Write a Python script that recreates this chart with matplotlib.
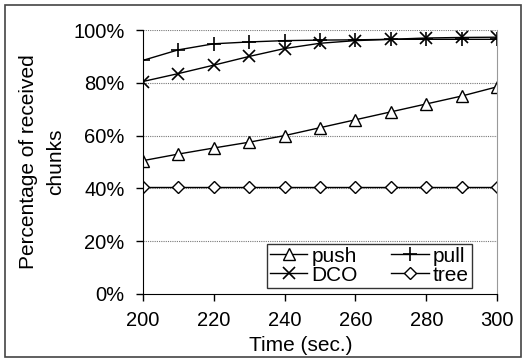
import matplotlib
matplotlib.use("Agg")
import matplotlib.pyplot as plt
from matplotlib.patches import Rectangle
from matplotlib.ticker import FuncFormatter

plt.rcParams['font.family'] = ['Liberation Sans', 'DejaVu Sans']

time_sec = [200, 210, 220, 230, 240, 250, 260, 270, 280, 290, 300]
push = [50.5, 53.0, 55.3, 57.5, 60.0, 63.0, 66.0, 69.0, 72.0, 75.0, 78.5]
pull = [88.5, 92.5, 94.8, 95.5, 96.0, 96.2, 96.3, 96.5, 96.5, 96.5, 96.5]
dco = [80.5, 83.5, 86.7, 90.0, 93.0, 95.0, 96.0, 96.5, 97.0, 97.2, 97.3]
tree = [40.5, 40.5, 40.5, 40.5, 40.5, 40.5, 40.5, 40.5, 40.5, 40.5, 40.5]

fig = plt.figure(figsize=(5.25, 3.58), dpi=100)
ax = fig.add_axes([0.272, 0.179, 0.675, 0.737])

# figure frame
fig.patches.append(Rectangle((0.01, 0.004), 0.983, 0.982, transform=fig.transFigure,
                             fill=False, edgecolor='#444444', linewidth=1.2))

l_push, = ax.plot(time_sec, push, color='black', linewidth=1.0, marker='^', markersize=9,
                  markerfacecolor='white', markeredgecolor='black', markeredgewidth=1.0, label='push')
l_pull, = ax.plot(time_sec, pull, color='black', linewidth=1.0, marker='+', markersize=10,
                  markeredgewidth=1.2, label='pull')
l_dco, = ax.plot(time_sec, dco, color='black', linewidth=1.0, marker='x', markersize=9,
                 markeredgewidth=1.2, label='DCO')
l_tree, = ax.plot(time_sec, tree, color='black', linewidth=1.0, marker='D', markersize=6,
                  markerfacecolor='white', markeredgecolor='black', markeredgewidth=1.0, label='tree')

ax.set_xlim(200, 300)
ax.set_ylim(0, 100)
ax.set_xticks([200, 220, 240, 260, 280, 300])
ax.set_yticks([0, 20, 40, 60, 80, 100])
ax.yaxis.set_major_formatter(FuncFormatter(lambda v, p: f'{int(v)}%'))
ax.tick_params(axis='both', labelsize=14.5, direction='out', length=5, width=1, colors='black')
ax.tick_params(axis='y', pad=8)
ax.tick_params(axis='x', pad=7)

for y in [20, 40, 60, 80, 100]:
    ax.axhline(y, color='#777777', linestyle=(0, (1, 1)), linewidth=0.8, zorder=0)

ax.spines['top'].set_visible(False)
ax.spines['right'].set_color('#999999')
ax.spines['left'].set_color('black')
ax.spines['bottom'].set_color('black')

ax.set_xlabel('Time (sec.)', fontsize=15)
ax.xaxis.set_label_coords(0.446, -0.158)
ax.set_ylabel('Percentage of received\nchunks', fontsize=15, linespacing=1.55, labelpad=6)

# row-wise order: push, pull / DCO, tree
leg = ax.legend([l_push, l_dco, l_pull, l_tree], ['push', 'DCO', 'pull', 'tree'],
                loc='lower right', bbox_to_anchor=(0.929, 0.023), ncol=2, fontsize=15,
                frameon=True, fancybox=False, borderpad=0.15, handlelength=1.8,
                handletextpad=0.2, columnspacing=1.6, labelspacing=0.0, borderaxespad=0.0)
leg.get_frame().set_edgecolor('black')
leg.get_frame().set_linewidth(1.0)

fig.savefig('out.png', dpi=100)
